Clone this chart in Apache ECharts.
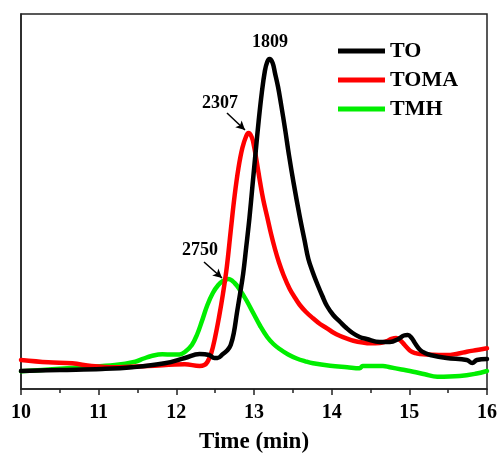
<!DOCTYPE html>
<html>
<head>
<meta charset="utf-8">
<script src="https://cdn.jsdelivr.net/npm/echarts@6/dist/echarts.min.js"></script>
<style>
  html, body { margin: 0; padding: 0; background: #fff; }
  #chart { width: 498px; height: 453px; }
</style>
</head>
<body>
<div id="chart"></div>
<script>
// GPC traces: elution time (min) vs detector response (arbitrary units)
const seriesNames = ['TO', 'TOMA', 'TMH'];
const seriesColors = ['#000000', '#ff0000', '#00ee00'];

const toTrace = [
  [10.00, 18], [10.50, 19], [11.04, 20], [11.43, 21.7], [11.85, 25.7], [12.11, 31], [12.30, 35],
  [12.42, 34], [12.49, 31], [12.53, 31], [12.60, 35], [12.66, 39], [12.70, 44], [12.74, 56],
  [12.78, 76], [12.82, 95], [12.86, 115], [12.90, 142], [12.94, 170], [12.98, 203],
  [13.02, 236], [13.06, 268], [13.10, 296], [13.14, 318], [13.17, 327], [13.20, 330],
  [13.24, 326], [13.27, 316], [13.31, 302], [13.35, 284], [13.40, 260], [13.45, 234],
  [13.51, 206], [13.59, 172], [13.65, 149], [13.70, 130], [13.76, 116], [13.82, 104],
  [13.88, 93], [13.94, 83], [14.02, 74], [14.11, 67], [14.19, 61], [14.27, 56], [14.36, 52],
  [14.45, 50], [14.62, 47], [14.75, 47], [14.86, 50], [14.93, 53.5], [14.98, 54], [15.03, 51],
  [15.08, 45], [15.14, 39], [15.20, 36], [15.27, 34], [15.48, 31], [15.74, 29], [15.81, 26],
  [15.87, 29], [16.00, 30]
];

const tomaTrace = [
  [10.00, 29], [10.35, 26.7], [10.66, 25.7], [10.91, 23], [11.21, 21.7], [11.64, 23],
  [12.11, 24.7], [12.30, 23], [12.36, 24], [12.40, 27], [12.45, 36], [12.50, 52],
  [12.55, 72], [12.60, 95], [12.65, 122], [12.70, 158], [12.75, 193], [12.80, 221],
  [12.85, 241], [12.90, 253], [12.93, 256], [12.97, 252], [13.00, 243], [13.04, 225],
  [13.08, 206], [13.12, 189], [13.17, 172], [13.22, 155], [13.27, 140], [13.32, 127],
  [13.38, 114], [13.46, 100], [13.53, 91], [13.59, 84], [13.67, 77], [13.76, 70.7],
  [13.85, 65], [13.94, 60.7], [14.02, 56.5], [14.11, 53], [14.20, 50.3], [14.28, 48.3],
  [14.40, 46.5], [14.49, 45.7], [14.62, 46], [14.70, 47.5], [14.77, 50], [14.83, 51],
  [14.88, 49], [14.94, 44], [15.01, 38.3], [15.08, 35.8], [15.14, 35], [15.30, 34.2],
  [15.48, 34], [15.62, 35.3], [15.74, 37.3], [15.87, 39], [16.00, 40.7]
];

const tmhTrace = [
  [10.00, 17.7], [10.40, 19.7], [10.79, 21.7], [11.21, 24], [11.47, 27.3], [11.58, 30.5],
  [11.68, 33], [11.82, 34.7], [11.95, 34.4], [12.04, 34.5], [12.11, 37], [12.20, 44],
  [12.27, 55], [12.33, 68], [12.40, 84], [12.47, 96], [12.54, 104], [12.60, 108],
  [12.67, 110], [12.75, 106], [12.82, 99], [12.90, 89], [12.99, 76], [13.08, 63],
  [13.17, 52], [13.25, 45], [13.33, 40], [13.44, 34.5], [13.55, 30.5], [13.66, 27.7],
  [13.76, 25.7], [13.98, 23.2], [14.20, 21.7], [14.36, 20.7], [14.40, 23], [14.66, 23],
  [14.75, 21.7], [14.90, 19.5], [15.05, 17.3], [15.20, 14.7], [15.36, 12.3], [15.65, 13],
  [15.85, 15.2], [16.00, 18]
];

const xTicks = [10, 11, 12, 13, 14, 15, 16];

// Molecular-weight annotations: text, anchor for the text, and optional arrow
const peakNotes = [
  { text: '1809', at: [13.206, 347], arrow: null },
  { text: '2307', at: [12.562, 286], arrow: [[12.652, 276], [12.884, 259]] },
  { text: '2750', at: [12.305, 139], arrow: [[12.356, 127], [12.588, 111]] }
];

const serif = '"Liberation Serif", "Times New Roman", serif';
const chart = echarts.init(document.getElementById('chart'));

const traces = [toTrace, tomaTrace, tmhTrace];
const series = traces.map((d, i) => ({
  name: seriesNames[i],
  type: 'line',
  data: d,
  smooth: 0.4,
  showSymbol: false,
  symbol: 'none',
  lineStyle: { width: 4.5, color: seriesColors[i], join: 'round', cap: 'round' },
  itemStyle: { color: seriesColors[i] },
  z: 5 - i
}));

// Annotation layer: labels and arrows placed in data coordinates
series.push({
  type: 'line',
  data: [],
  silent: true,
  markPoint: {
    symbol: 'circle',
    symbolSize: 0,
    label: {
      show: true,
      position: 'inside',
      color: '#000',
      fontFamily: serif,
      fontWeight: 'bold',
      fontSize: 18,
      formatter: p => p.name
    },
    data: peakNotes.map(n => ({ name: n.text, coord: n.at }))
  },
  markLine: {
    silent: true,
    symbol: ['none', 'arrow'],
    symbolSize: [7, 9],
    label: { show: false },
    lineStyle: { color: '#000', width: 1.5, type: 'solid' },
    data: peakNotes.filter(n => n.arrow).map(n => [
      { coord: n.arrow[0] }, { coord: n.arrow[1] }
    ])
  },
  z: 10
});

chart.setOption({
  animation: false,
  backgroundColor: '#fff',
  grid: {
    left: 21, right: 11, top: 14, bottom: 64,
    containLabel: false,
    outerBoundsMode: 'none',
    show: true, borderColor: '#222', borderWidth: 1.5
  },
  legend: {
    data: seriesNames,
    orient: 'vertical',
    left: 333,
    top: 35,
    icon: 'rect',
    itemWidth: 47,
    itemHeight: 5,
    itemGap: 7,
    textStyle: {
      fontFamily: serif, fontWeight: 'bold', fontSize: 22, color: '#000',
      lineHeight: 22
    }
  },
  xAxis: {
    type: 'value',
    min: 10, max: 16, interval: 1,
    name: 'Time (min)',
    nameLocation: 'middle',
    nameGap: 42,
    nameTextStyle: { fontFamily: serif, fontWeight: 'bold', fontSize: 23, color: '#000' },
    axisLine: { show: true, onZero: false, lineStyle: { color: '#222', width: 1.5 } },
    axisTick: { show: true, inside: false, length: 6, lineStyle: { color: '#222', width: 1.5 } },
    minorTick: { show: true, splitNumber: 2, length: 4, lineStyle: { color: '#222', width: 1.5 } },
    axisLabel: {
      margin: 14, fontFamily: serif, fontWeight: 'bold', fontSize: 20, color: '#000',
      formatter: v => xTicks.includes(v) ? String(v) : ''
    },
    splitLine: { show: false }
  },
  yAxis: {
    type: 'value',
    min: 0, max: 375,
    axisLine: { show: true, lineStyle: { color: '#222', width: 1.5 } },
    axisTick: { show: false },
    axisLabel: { show: false },
    splitLine: { show: false }
  },
  series: series
});
</script>
</body>
</html>
